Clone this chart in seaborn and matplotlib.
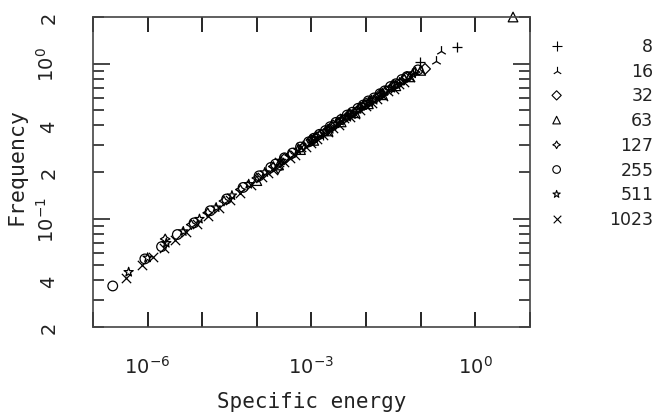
import matplotlib
matplotlib.use('Agg')
import matplotlib.pyplot as plt
import seaborn as sns
from matplotlib.ticker import FixedLocator, FixedFormatter, NullLocator

# Legend labels (system size) and the marker used for each
sizes = ['8', '16', '32', '63', '127', '255', '511', '1023']
markers = ['+', '2', 'D', '^', (4, 1, 0), 'o', '*', 'x']

# Specific energy (x) and frequency (y) for each size
x_8 = [1.6e-3, 5.0e-3, 1.26e-2, 3.2e-2, 0.0975, 0.458]
y_8 = [0.348, 0.458, 0.569, 0.703, 1.02, 1.29]

x_16 = [1.0e-3, 3.2e-3, 7.9e-3, 1.8e-2, 4.0e-2, 7.9e-2, 0.191, 0.233]
y_16 = [0.322, 0.423, 0.525, 0.632, 0.760, 0.888, 1.045, 1.21]

x_32 = [3.2e-4, 1.0e-3, 2.5e-3, 5.0e-3, 1.0e-2, 1.8e-2, 3.2e-2, 5.6e-2, 0.12]
y_32 = [0.243, 0.321, 0.399, 0.470, 0.552, 0.630, 0.719, 0.820, 0.925]

x_63 = [1.0e-4, 2.5e-4, 6.3e-4, 1.1e-3, 2.0e-3, 3.5e-3, 6.3e-3, 1.1e-2,
        2.0e-2, 3.5e-2, 6.3e-2, 0.10, 4.9]
y_63 = [0.176, 0.222, 0.279, 0.320, 0.368, 0.421, 0.482, 0.551,
        0.630, 0.720, 0.822, 0.905, 2.0]

x_127 = [2.1e-6, 6.3e-6, 1.26e-5, 2.5e-5, 5.0e-5, 1.0e-4, 2.0e-4, 2.45e-4,
         4.0e-4, 7.1e-4, 1.26e-3, 2.0e-3, 3.2e-3, 5.0e-3, 7.9e-3, 1.26e-2,
         2.0e-2, 3.2e-2, 5.0e-2, 7.9e-2]
y_127 = [0.0740, 0.0915, 0.109, 0.130, 0.154, 0.183, 0.217, 0.209,
         0.257, 0.295, 0.339, 0.378, 0.421, 0.469, 0.522, 0.581,
         0.645, 0.717, 0.796, 0.883]

x_255 = [2.3e-7, 8.9e-7, 1.8e-6, 3.5e-6, 7.1e-6, 1.4e-5, 2.8e-5, 5.6e-5,
         1.1e-4, 1.8e-4, 2.2e-4, 3.2e-4, 4.5e-4, 6.3e-4, 8.9e-4, 1.1e-3,
         1.4e-3, 1.8e-3, 2.2e-3, 2.8e-3, 3.5e-3, 4.5e-3, 5.6e-3, 7.1e-3,
         8.9e-3, 1.1e-2, 1.4e-2, 1.8e-2, 2.2e-2, 2.8e-2, 3.5e-2, 4.5e-2,
         5.6e-2, 8.9e-2]
y_255 = [0.0368, 0.0550, 0.0660, 0.0790, 0.0940, 0.1125, 0.134, 0.159,
         0.189, 0.214, 0.225, 0.247, 0.265, 0.290, 0.313, 0.330,
         0.350, 0.370, 0.392, 0.418, 0.436, 0.466, 0.486, 0.515,
         0.541, 0.575, 0.601, 0.640, 0.668, 0.712, 0.742, 0.790,
         0.825, 0.912]

x_511 = [4.5e-7, 1.0e-6, 2.2e-6, 4.5e-6, 8.9e-6, 1.8e-5, 3.5e-5, 7.1e-5,
         1.4e-4, 2.8e-4, 5.6e-4, 1.0e-3, 1.1e-3, 1.4e-3, 1.8e-3, 2.2e-3,
         2.8e-3, 3.5e-3, 4.5e-3, 5.6e-3, 7.1e-3, 8.9e-3, 1.1e-2, 1.4e-2,
         1.8e-2, 2.2e-2, 2.8e-2, 4.5e-2, 7.1e-2]
y_511 = [0.0452, 0.0560, 0.0695, 0.0828, 0.0995, 0.118, 0.141, 0.167,
         0.199, 0.236, 0.278, 0.318, 0.330, 0.350, 0.366, 0.378,
         0.410, 0.435, 0.455, 0.470, 0.508, 0.538, 0.565, 0.582,
         0.628, 0.664, 0.700, 0.775, 0.862]

x_1023 = [4.0e-7, 7.9e-7, 1.26e-6, 2.0e-6, 3.2e-6, 5.0e-6, 7.9e-6, 1.26e-5,
          2.0e-5, 3.2e-5, 5.0e-5, 7.9e-5, 1.26e-4, 1.6e-4, 2.0e-4, 2.5e-4,
          3.2e-4, 4.0e-4, 5.0e-4, 6.3e-4, 7.9e-4, 1.0e-3, 1.26e-3, 1.6e-3,
          2.0e-3, 2.5e-3, 3.2e-3, 4.0e-3, 5.0e-3, 6.3e-3, 7.9e-3, 1.0e-2,
          1.26e-2, 1.6e-2, 2.0e-2, 2.5e-2, 3.2e-2, 4.0e-2, 5.0e-2, 6.3e-2]
y_1023 = [0.0415, 0.0505, 0.0568, 0.0648, 0.0726, 0.0815, 0.0925, 0.1035,
          0.117, 0.131, 0.147, 0.166, 0.185, 0.197, 0.207, 0.231,
          0.233, 0.246, 0.259, 0.289, 0.291, 0.306, 0.325, 0.347,
          0.362, 0.383, 0.402, 0.448, 0.451, 0.472, 0.502, 0.532,
          0.556, 0.590, 0.618, 0.662, 0.690, 0.735, 0.762, 0.815]

xs = [x_8, x_16, x_32, x_63, x_127, x_255, x_511, x_1023]
ys = [y_8, y_16, y_32, y_63, y_127, y_255, y_511, y_1023]

# Tick positions/labels
x_major = [1e-7, 1e-6, 1e-5, 1e-4, 1e-3, 1e-2, 1e-1, 1e0, 1e1]
x_labels = ['', r'$10^{-6}$', '', '', r'$10^{-3}$', '', '', r'$10^{0}$', '']
y_major = [0.1, 1.0]
y_major_labels = [r'$10^{-1}$', r'$10^{0}$']
y_minor = [0.02, 0.03, 0.04, 0.05, 0.06, 0.07, 0.08, 0.09,
           0.2, 0.3, 0.4, 0.5, 0.6, 0.7, 0.8, 0.9, 2.0]
y_minor_labels = ['2', '', '4', '', '', '', '', '',
                  '2', '', '4', '', '', '', '', '', '2']

sns.set_style('ticks')
plt.rcParams['font.family'] = ['DejaVu Sans']
plt.rcParams['mathtext.default'] = 'regular'
ink = '#222222'

fig = plt.figure(figsize=(6.58, 4.14), dpi=100)
ax = fig.add_axes([0.1413, 0.2077, 0.6641, 0.7488])
ax.set_xscale('log')
ax.set_yscale('log')

for x, y, m in zip(xs, ys, markers):
    if m in ('+', '2', 'x'):
        sns.scatterplot(x=x, y=y, marker=m, color='black',
                        s=45 if m == 'x' else 60,
                        linewidth=0.9, ax=ax, clip_on=False)
    else:
        sns.scatterplot(x=x, y=y, marker=m, facecolor='none',
                        edgecolor='black', s=30 if m == 'D' else 48,
                        linewidth=0.9, ax=ax, clip_on=False)

ax.set_xlim(1e-7, 1e1)
ax.set_ylim(0.02, 2.0)

ax.xaxis.set_major_locator(FixedLocator(x_major))
ax.xaxis.set_major_formatter(FixedFormatter(x_labels))
ax.xaxis.set_minor_locator(NullLocator())
ax.yaxis.set_major_locator(FixedLocator(y_major))
ax.yaxis.set_major_formatter(FixedFormatter(y_major_labels))
ax.yaxis.set_minor_locator(FixedLocator(y_minor))
ax.yaxis.set_minor_formatter(FixedFormatter(y_minor_labels))

ax.tick_params(axis='x', which='major', direction='in', length=11, width=1.2,
               top=True, bottom=True, labelsize=14, pad=20,
               colors='black', labelcolor=ink)
ax.tick_params(axis='y', which='major', direction='in', length=12, width=1.2,
               left=True, right=True, labelsize=14, pad=25,
               labelrotation=90, labelcolor=ink)
ax.tick_params(axis='y', which='minor', direction='in', length=8, width=1.2,
               left=True, right=True, labelsize=14, pad=25,
               labelrotation=90, labelcolor=ink)
for lab in ax.get_yticklabels(which='both'):
    lab.set_va('center')

for sp in ax.spines.values():
    sp.set_linewidth(1.2)
    sp.set_color('#444444')

ax.set_xlabel('Specific energy', fontsize=15, family='DejaVu Sans Mono',
              color=ink)
ax.set_ylabel('Frequency', fontsize=15.5, family='DejaVu Sans Mono',
              color=ink)
ax.xaxis.set_label_coords(0.5, -0.206)
ax.yaxis.set_label_coords(-0.151, 0.52)

# legend: marker on the left, size right-aligned
lax = fig.add_axes([0.82, 0.4389, 0.18, 0.4775])
lax.set_xlim(0, 1)
lax.set_ylim(-7.5, 0.5)
lax.axis('off')
for i, (lab, m) in enumerate(zip(sizes, markers)):
    if m in ('+', '2', 'x'):
        lax.scatter([0.144], [-i], marker=m, color='black',
                    s=30 if m == 'x' else 45, linewidths=0.8)
    else:
        lax.scatter([0.144], [-i], marker=m, facecolor='none',
                    edgecolor='black', s=22 if m == 'D' else 30,
                    linewidths=0.8)
    lax.text(0.96, -i, lab, ha='right', va='center', fontsize=12.5,
             color=ink)

fig.savefig('out.png', dpi=100)
